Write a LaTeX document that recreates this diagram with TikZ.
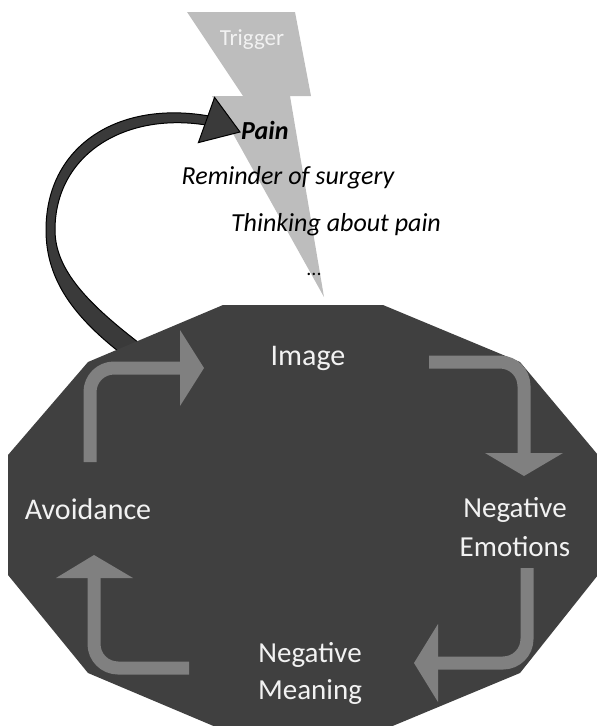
\documentclass[tikz,border=0pt]{standalone}
\usepackage{fontspec}
\setmainfont{Carlito}
\definecolor{polygray}{HTML}{404040}
\definecolor{arrowgray}{HTML}{808080}
\definecolor{boltgray}{HTML}{BDBDBD}
\definecolor{curvegray}{HTML}{3A3A3A}
\definecolor{lbltext}{HTML}{F2F2F2}
\begin{document}
\begin{tikzpicture}[x=1pt,y=-1pt,
  lbl/.style={text=lbltext, font=\fontsize{30}{38}\selectfont, inner sep=0pt, align=center},
  itl/.style={text=black, font=\fontsize{26}{30}\selectfont\itshape, inner sep=0pt},
  shaft/.style={draw=arrowgray, line width=13pt, rounded corners=24pt},
  head/.style={fill=arrowgray}]
\useasboundingbox (0,0) rectangle (597,726);
\clip (0,0) rectangle (597,726);
% lightning bolt
\fill[boltgray] (187,12) -- (295,12) -- (311,96) -- (290,96) -- (324,297)
  -- (212,96) -- (243,96) -- cycle;
\node[text=lbltext, font=\fontsize{23}{27}\selectfont, inner sep=0pt] (trigger) at (252,40) {Trigger};
% curved feedback arrow (tapered shaft)
\coordinate (ctip) at (240,132);
\filldraw[fill=curvegray, draw=black, line width=1pt]
  (127,358) .. controls (74,318) and (46,280) .. (46,230)
  .. controls (46,146) and (118,100) .. (209,116)
  -- (206,125)
  .. controls (124,112) and (55,155) .. (55,230)
  .. controls (55,270) and (88,304) .. (143,346) -- cycle;
\filldraw[fill=curvegray, draw=black, line width=1pt, line join=miter]
  (214.6,97.4) -- (ctip) -- (198.4,142.6) -- cycle;
% italic trigger list
\node[itl, font=\fontsize{26}{30}\selectfont\itshape\bfseries, anchor=west] (pain) at (241,130) {Pain};
\node[itl] (reminder) at (288,178) {Reminder of surgery};
\node[itl] (thinking) at (336,225) {Thinking about pain};
\node[itl, font=\fontsize{20}{24}\selectfont] (dots) at (314,274) {...};
% dodecagon
\fill[polygray] (223,305) -- (383,305) -- (520,362) -- (598,455) -- (598,575)
  -- (520,673) -- (383,730) -- (223,730) -- (88,673) -- (8,575) -- (8,455)
  -- (88,362) -- cycle;
% labels
\node[lbl] (image) at (308,358) {Image};
\node[lbl, font=\fontsize{29}{39}\selectfont] (emotions) at (515,527) {Negative\\Emotions};
\node[lbl, font=\fontsize{29}{37}\selectfont] (meaning) at (310,673) {Negative\\Meaning};
\node[lbl] (avoid) at (88,509) {Avoidance};
% cycle arrows
\draw[shaft] (90,462) -- (90,368) -- (181,368);
\fill[head] (180,330) -- (204,368) -- (180,406) -- cycle;
\draw[shaft] (429,362) -- (524,362) -- (524,454);
\fill[head] (485,453) -- (524,476) -- (563,453) -- cycle;
\draw[shaft] (527,568) -- (527,663) -- (437,663);
\fill[head] (438,624) -- (414,663) -- (438,702) -- cycle;
\draw[shaft] (189,668) -- (94,668) -- (94,577);
\fill[head] (56,578) -- (94,555) -- (133,578) -- cycle;
\end{tikzpicture}
\end{document}
